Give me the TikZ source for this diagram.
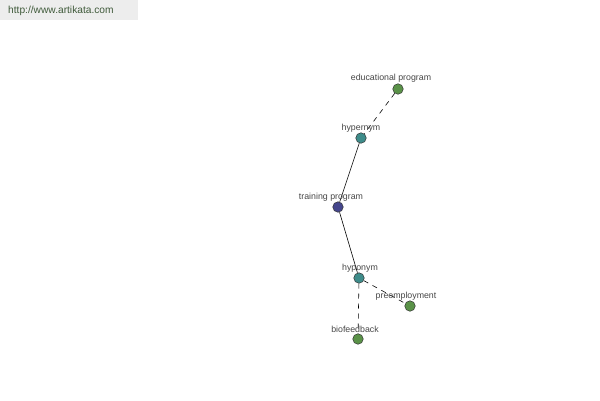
\documentclass[tikz,border=0pt]{standalone}
\usepackage{fontspec}
\setmainfont{Liberation Sans}
\begin{document}
\begin{tikzpicture}[x=1pt,y=-1pt,
  dot/.style={circle,draw=black!80,line width=0.5pt,minimum size=10.5pt,inner sep=0pt},
  lbl/.style={font=\fontsize{8.8}{10}\selectfont,text=black!72,inner sep=0pt},
  edge/.style={line width=0.6pt,black},
  dedge/.style={edge,dash pattern=on 5pt off 5pt}]
\useasboundingbox (0,0) rectangle (600,400);
\fill[white] (0,0) rectangle (600,400);
\fill[black!7] (0,0) rectangle (138,20);
\definecolor{urlc}{HTML}{3F5A3A}
\node[font=\fontsize{10.2}{12}\selectfont,text=urlc,anchor=west,inner sep=0pt] (url) at (8,11) {http://www.artikata.com};
\definecolor{gn}{HTML}{5A9248}
\definecolor{tl}{HTML}{3E8C8A}
\definecolor{bl}{HTML}{45468C}
\node[dot,fill=gn] (edu) at (398,89) {};
\node[dot,fill=tl] (hyper) at (361,138) {};
\node[dot,fill=bl] (train) at (338,207) {};
\node[dot,fill=tl] (hypo) at (359,278) {};
\node[dot,fill=gn] (pre) at (410,306) {};
\node[dot,fill=gn] (bio) at (358,339) {};
\draw[dedge] (edu) -- (hyper);
\draw[edge] (hyper) -- (train);
\draw[edge] (train) -- (hypo);
\draw[dedge] (hypo) -- (pre);
\draw[dedge] (hypo) -- (bio);
\node[lbl] (ledu) at (391,78) {educational program};
\node[lbl] (lhyper) at (361,128) {hypernym};
\node[lbl] (ltrain) at (331,197) {training program};
\node[lbl] (lhypo) at (360,268) {hyponym};
\node[lbl] (lpre) at (406,296) {preemployment};
\node[lbl] (lbio) at (355,329) {biofeedback};
\end{tikzpicture}
\end{document}
